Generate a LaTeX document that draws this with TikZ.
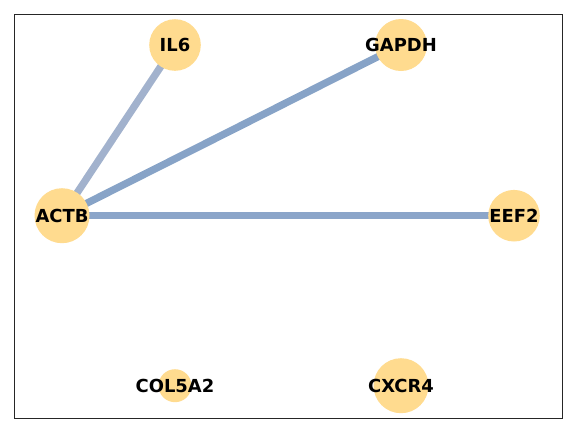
\documentclass[tikz,border=0pt]{standalone}
\usepackage{fontspec}
\setmainfont{DejaVu Sans}
\usetikzlibrary{backgrounds}
\definecolor{genefill}{HTML}{FFDB8F}
\definecolor{linkA}{HTML}{A2B2CD}
\definecolor{linkB}{HTML}{87A3C7}
\definecolor{linkC}{HTML}{8BA5C9}

\begin{document}
\begin{tikzpicture}[x=1bp,y=-1bp]
        \tikzset{gene/.style={circle,fill=genefill,draw=none,inner sep=0pt,
            label={[font=\fontsize{18}{20}\selectfont\bfseries]center:#1}},
          link/.style={line width=7.3bp},
          frame/.style={draw=black!85,line width=0.9bp}}
        \useasboundingbox (0,0) rectangle (576,432);
        \draw[frame] (14,14) rectangle (562,418);
        \node[gene=IL6,minimum size=51.6bp] (il6) at (175,45) {};
        \node[gene=GAPDH,minimum size=52bp] (gapdh) at (401,45) {};
        \node[gene=ACTB,minimum size=55bp] (actb) at (62,215.7) {};
        \node[gene=EEF2,minimum size=51.6bp] (eef2) at (514,215.7) {};
        \node[gene=COL5A2,minimum size=33bp] (col5a2) at (175,385.7) {};
        \node[gene=CXCR4,minimum size=55bp] (cxcr4) at (401,385.7) {};
        \begin{scope}[on background layer]
          \draw[link,linkA] (actb.center) -- (il6.center);
          \draw[link,linkB] (actb.center) -- (gapdh.center);
          \draw[link,linkC] (actb.center) -- (eef2.center);
        \end{scope}
      \end{tikzpicture}
\end{document}
